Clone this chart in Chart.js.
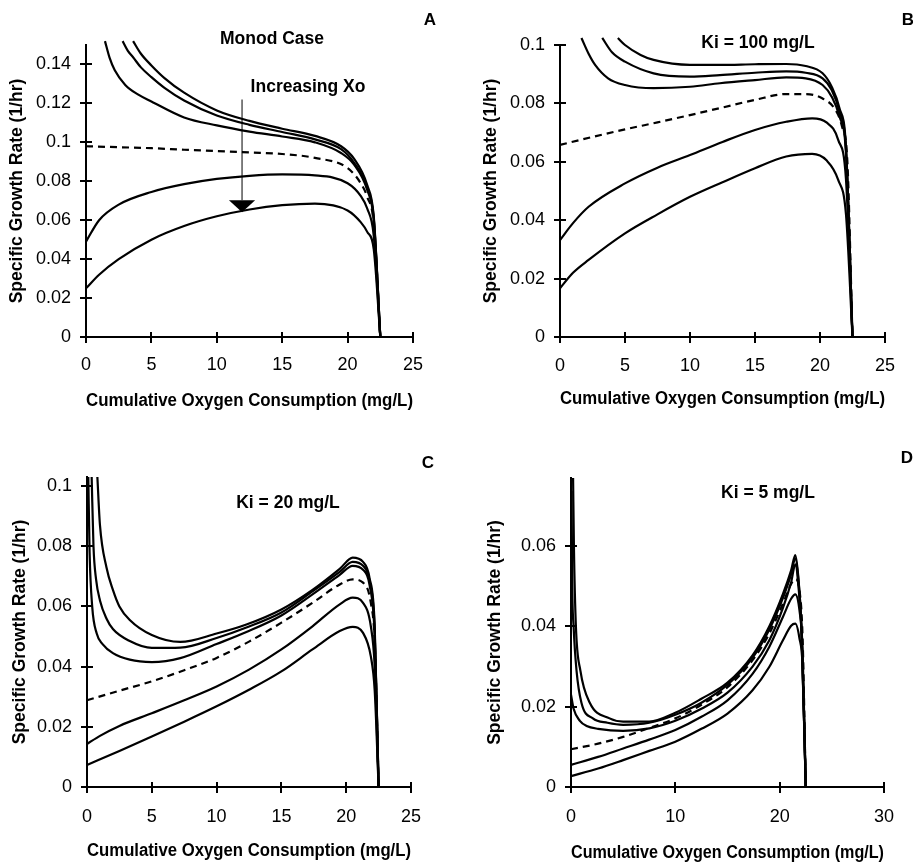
<!DOCTYPE html>
<html><head><meta charset="utf-8">
<script src="https://cdn.jsdelivr.net/npm/chart.js@4"></script>
<style>
html,body{margin:0;padding:0;background:#fff;}
#wrap{position:relative;width:913px;height:865px;overflow:hidden;background:#fff;}
canvas{position:absolute;}
</style></head><body>
<div id="wrap">
<canvas id="cA" width="456" height="420" style="left:0;top:0"></canvas>
<canvas id="cB" width="457" height="420" style="left:456px;top:0"></canvas>
<canvas id="cC" width="456" height="445" style="left:0;top:420px"></canvas>
<canvas id="cD" width="457" height="445" style="left:456px;top:420px"></canvas>
</div>
<script>
// ---------- Tick values ----------
const xTicksABC = [0, 5, 10, 15, 20, 25];
const xTicksD = [0, 10, 20, 30];
const yTicksA = [0, 0.02, 0.04, 0.06, 0.08, 0.1, 0.12, 0.14];
const yTicksB = [0, 0.02, 0.04, 0.06, 0.08, 0.1];
const yTicksC = [0, 0.02, 0.04, 0.06, 0.08, 0.1];
const yTicksD = [0, 0.02, 0.04, 0.06];

// ---------- Panel A (Monod case) ----------
const xA1 = [3.6, 4.2, 5, 6, 7.5, 10, 12.5, 15, 17.5, 19.5, 20.5, 21.5, 22, 22.5];
const yA1 = [0.152, 0.1455, 0.1395, 0.133, 0.1255, 0.1164, 0.111, 0.107, 0.1033, 0.098, 0.0915, 0.078, 0.062, 0];
const xA2 = [2.8, 3.2, 3.6, 4.2, 5, 6, 7.5, 10, 12.5, 15, 17.5, 19.5, 20.5, 21.5, 22, 22.5];
const yA2 = [0.152, 0.147, 0.1437, 0.1385, 0.1335, 0.128, 0.1215, 0.1138, 0.109, 0.1053, 0.1015, 0.0965, 0.0895, 0.0765, 0.061, 0];
const xA3 = [1.45, 1.8, 2.2, 3, 4, 5, 7.5, 10, 12.5, 15, 17.5, 19.5, 20.5, 21.5, 22, 22.5];
const yA3 = [0.152, 0.1435, 0.137, 0.1295, 0.1245, 0.121, 0.1128, 0.1087, 0.1055, 0.103, 0.1, 0.0945, 0.0885, 0.0755, 0.06, 0];
const xA4 = [0, 2.5, 5, 7.5, 10, 12.5, 15, 17.5, 20, 21, 21.5, 22, 22.5];
const yA4 = [0.098, 0.0975, 0.097, 0.0962, 0.0955, 0.0948, 0.094, 0.092, 0.0868, 0.079, 0.072, 0.058, 0];
const xA56 = [0, 1, 2.5, 5, 7.5, 10, 12.5, 15, 17.5, 20, 21, 21.5, 22, 22.5];
const yA5 = [0.049, 0.060, 0.068, 0.0745, 0.0785, 0.0812, 0.0828, 0.0835, 0.083, 0.079, 0.0725, 0.066, 0.052, 0];
const yA6 = [0.025, 0.032, 0.040, 0.050, 0.057, 0.062, 0.0655, 0.0677, 0.0685, 0.065, 0.059, 0.054, 0.045, 0];

// ---------- Panel B (Ki = 100 mg/L) ----------
const xB1 = [4.45, 5, 6.2, 7.2, 10, 12.3, 15, 17.4, 18.9, 20.2, 20.9, 21.5, 22, 22.5];
const yB1 = [0.1024, 0.1, 0.0966, 0.0949, 0.0932, 0.0932, 0.0934, 0.0935, 0.0928, 0.0903, 0.0857, 0.0783, 0.0652, 0];
const xB2 = [3.25, 4, 5, 7.2, 10, 12.3, 15, 17.4, 18.9, 20.2, 20.9, 21.5, 22, 22.5];
const yB2 = [0.1024, 0.0975, 0.0943, 0.0903, 0.0892, 0.0897, 0.0905, 0.091, 0.0905, 0.0886, 0.0846, 0.0772, 0.064, 0];
const xB3 = [1.65, 2.2, 2.7, 3.7, 5, 7.2, 10, 12.3, 15, 17.4, 18.9, 20.2, 20.9, 21.5, 22, 22.5];
const yB3 = [0.1024, 0.097, 0.0932, 0.0886, 0.0863, 0.0852, 0.0857, 0.0869, 0.088, 0.0889, 0.0886, 0.0863, 0.0823, 0.0755, 0.063, 0];
const xB4 = [0, 2.5, 5, 7.5, 10, 12.5, 15, 17.4, 18.9, 20.2, 21.2, 21.7, 22.1, 22.5];
const yB4 = [0.0658, 0.0685, 0.0711, 0.0735, 0.076, 0.0786, 0.0812, 0.0832, 0.0832, 0.0817, 0.0777, 0.072, 0.0606, 0];
const xB56 = [0, 1, 2.2, 5, 7.5, 10, 12.5, 15, 17.4, 19.4, 20.5, 21.4, 22, 22.5];
const yB5 = [0.0332, 0.039, 0.0446, 0.0526, 0.058, 0.0623, 0.0668, 0.0709, 0.0737, 0.0749, 0.0735, 0.0675, 0.054, 0];
const yB6 = [0.0167, 0.022, 0.0264, 0.0355, 0.042, 0.048, 0.053, 0.0578, 0.0618, 0.0627, 0.0605, 0.0538, 0.042, 0];

// ---------- Panel C (Ki = 20 mg/L) ----------
const xC1 = [0.8, 1, 1.5, 2, 2.5, 3.3, 5, 7.2, 10, 12.3, 15, 17.4, 19.5, 20.5, 21.3, 21.8, 22.2, 22.5];
const yC1 = [0.103, 0.087, 0.073, 0.0655, 0.060, 0.0555, 0.0505, 0.0482, 0.051, 0.054, 0.059, 0.0655, 0.0725, 0.0762, 0.0748, 0.0695, 0.0534, 0];
const xC2 = [0.36, 0.5, 0.7, 1, 1.5, 2, 3.3, 5, 7.2, 10, 12.3, 15, 17.4, 19.5, 20.5, 21.3, 21.8, 22.2, 22.5];
const yC2 = [0.103, 0.08, 0.069, 0.062, 0.056, 0.0525, 0.0485, 0.0462, 0.0463, 0.0495, 0.053, 0.058, 0.065, 0.0715, 0.0748, 0.0735, 0.0685, 0.052, 0];
const xC3 = [0.1, 0.2, 0.4, 0.75, 1.2, 2, 3.3, 5, 7.2, 10, 12.3, 15, 17.4, 19.5, 20.5, 21.3, 21.8, 22.2, 22.5];
const yC3 = [0.103, 0.078, 0.06, 0.051, 0.0475, 0.0445, 0.0423, 0.0415, 0.0428, 0.0475, 0.0515, 0.057, 0.064, 0.0705, 0.0735, 0.0722, 0.0672, 0.05, 0];
const xC46 = [0, 2.5, 5, 7.5, 10, 12.5, 15, 17.4, 19.5, 20.5, 21.3, 21.9, 22.2, 22.5];
const yC4 = [0.0288, 0.032, 0.0351, 0.0388, 0.0429, 0.0483, 0.0546, 0.0612, 0.0673, 0.069, 0.0679, 0.0612, 0.048, 0];
const xC5 = [0, 1, 2.5, 5, 7.5, 10, 12.5, 15, 17.4, 19.5, 20.5, 21.3, 21.9, 22.2, 22.5];
const yC5 = [0.0143, 0.017, 0.0203, 0.0245, 0.0288, 0.0334, 0.039, 0.0457, 0.0534, 0.0607, 0.0629, 0.0612, 0.0534, 0.04, 0];
const yC6 = [0.0073, 0.012, 0.0168, 0.0217, 0.0268, 0.0323, 0.0384, 0.0457, 0.0518, 0.0532, 0.0512, 0.0434, 0.032, 0];

// ---------- Panel D (Ki = 5 mg/L) ----------
const xD1 = [0.2, 0.28, 0.47, 0.9, 1.8, 3.7, 5, 7.5, 10, 12.5, 15, 17.4, 19, 20.3, 21.1, 21.5, 21.8, 22.1, 22.5];
const yD1 = [0.077, 0.06, 0.04, 0.029, 0.021, 0.0171, 0.0163, 0.0163, 0.0185, 0.022, 0.026, 0.0328, 0.040, 0.048, 0.054, 0.0578, 0.052, 0.039, 0];
const xD2 = [0.05, 0.12, 0.25, 0.53, 1.0, 2.1, 3.5, 5, 7.5, 10, 12.5, 15, 17.4, 19, 20.3, 21.1, 21.5, 21.8, 22.1, 22.5];
const yD2 = [0.0738, 0.05, 0.04, 0.029, 0.021, 0.0171, 0.016, 0.0155, 0.016, 0.018, 0.021, 0.0255, 0.0322, 0.0392, 0.047, 0.053, 0.057, 0.0515, 0.039, 0];
const xD3 = [0, 0.25, 0.85, 1.5, 2.6, 5, 7.5, 10, 12.5, 15, 17.4, 19, 20.3, 21.1, 21.5, 21.8, 22.1, 22.5];
const yD3 = [0.023, 0.0195, 0.0165, 0.0152, 0.0145, 0.014, 0.0146, 0.0165, 0.0195, 0.0235, 0.030, 0.0365, 0.0445, 0.051, 0.0555, 0.05, 0.038, 0];
const xD46 = [0, 2.6, 5, 7.5, 10, 12.5, 15, 17.4, 19, 20.3, 21.1, 21.5, 21.9, 22.2, 22.5];
const yD4 = [0.0094, 0.0108, 0.0125, 0.0147, 0.0171, 0.0205, 0.0249, 0.0316, 0.0382, 0.0456, 0.0506, 0.0518, 0.049, 0.037, 0];
const yD5 = [0.0055, 0.0075, 0.0096, 0.0118, 0.0142, 0.0175, 0.0216, 0.0282, 0.0349, 0.0423, 0.0469, 0.048, 0.044, 0.034, 0];
const yD6 = [0.0027, 0.0046, 0.0067, 0.009, 0.0113, 0.0145, 0.0183, 0.0241, 0.0299, 0.0365, 0.0402, 0.0407, 0.037, 0.03, 0];

const X_TITLE = 'Cumulative Oxygen Consumption (mg/L)';
const Y_TITLE = 'Specific Growth Rate (1/hr)';

// ---------- fonts ----------
function fontAvailable(f) {
  const c = document.createElement('canvas').getContext('2d');
  const s = 'abcdefghijklmnopqrstuvwxyz0123456789';
  c.font = 'bold 40px "' + f + '", monospace';
  const a = c.measureText(s).width;
  c.font = 'bold 40px "' + f + '", serif';
  const b = c.measureText(s).width;
  return Math.abs(a - b) < 0.01;
}
const HAS_NARROW = fontAvailable('Liberation Sans Narrow');
const BOLD_FAM = HAS_NARROW ? "'Liberation Sans Narrow'" : "'Liberation Sans', Arial, sans-serif";
const BOLD_SIZE = HAS_NARROW ? 21 : 17.5;
const TICK_FAM = "'Liberation Sans', Arial, sans-serif";

function ds(xs, ys, dashed) {
  return {
    data: xs.map((x, i) => ({x: x, y: ys[i]})),
    showLine: true, fill: false,
    borderColor: '#000', borderWidth: 2.2,
    pointRadius: 0, pointHoverRadius: 0,
    cubicInterpolationMode: 'monotone',
    borderDash: dashed ? [7, 5] : [],
    clip: 12
  };
}

const decoPlugin = {
  id: 'panelDeco',
  afterDraw(chart, args, opts) {
    const ctx = chart.ctx;
    const xs = chart.scales.x, ys = chart.scales.y;
    const ca = chart.chartArea;
    ctx.save();
    ctx.strokeStyle = '#000';
    ctx.lineWidth = 2;
    ctx.beginPath();
    xs.ticks.forEach(t => {
      const p = Math.round(xs.getPixelForValue(t.value));
      ctx.moveTo(p, ca.bottom - 5); ctx.lineTo(p, ca.bottom + 6);
    });
    ys.ticks.forEach(t => {
      const p = Math.round(ys.getPixelForValue(t.value));
      ctx.moveTo(ca.left - 6, p); ctx.lineTo(ca.left + 6, p);
    });
    ctx.stroke();
    if (opts.arrow) {
      const a = opts.arrow;
      const ax = xs.getPixelForValue(a.x);
      const y1 = ys.getPixelForValue(a.yTop);
      const yb = ys.getPixelForValue(a.yBase);
      const yt = ys.getPixelForValue(a.yTip);
      const hw = xs.getPixelForValue(a.x + a.halfW) - ax;
      ctx.lineWidth = 1;
      ctx.beginPath(); ctx.moveTo(ax, y1); ctx.lineTo(ax, yb); ctx.stroke();
      ctx.fillStyle = '#000';
      ctx.beginPath(); ctx.moveTo(ax - hw, yb); ctx.lineTo(ax + hw, yb); ctx.lineTo(ax, yt); ctx.closePath(); ctx.fill();
    }
    ctx.fillStyle = '#000';
    ctx.textAlign = 'center';
    ctx.textBaseline = 'middle';
    (opts.texts || []).forEach(t => {
      ctx.font = t.font;
      ctx.fillText(t.text, t.x, t.y);
    });
    ctx.restore();
  }
};

const fmt = v => String(Math.round(v * 1000) / 1000);
const BF = 'bold ' + BOLD_SIZE + 'px ' + BOLD_FAM;
const LF = 'bold 17px ' + TICK_FAM;

function makePanel(id, p) {
  new Chart(document.getElementById(id), {
    type: 'scatter',
    data: {datasets: p.series},
    options: {
      responsive: false, animation: false, devicePixelRatio: 1,
      events: [],
      layout: {padding: {left: 0, top: p.padTop, right: p.padRight, bottom: 0}},
      plugins: {legend: {display: false}, tooltip: {enabled: false}, panelDeco: p.deco},
      scales: {
        x: {
          type: 'linear', min: p.xMin, max: p.xMax,
          afterBuildTicks: s => { s.ticks = p.xTicks.map(v => ({value: v})); },
          afterFit: s => { s.height = p.xH; },
          grid: {drawOnChartArea: false, drawTicks: false},
          border: {display: true, color: '#000', width: 2},
          ticks: {color: '#000', font: {family: TICK_FAM, size: 18}, padding: p.xTickPad, maxRotation: 0, autoSkip: false, callback: fmt},
          title: {display: true, text: X_TITLE, color: '#000', font: {family: BOLD_FAM, size: BOLD_SIZE, weight: 'bold', lineHeight: 1.2}, padding: {top: 0, bottom: p.xTitlePad}}
        },
        y: {
          type: 'linear', min: 0, max: p.yMax,
          afterBuildTicks: s => { s.ticks = p.yTicks.map(v => ({value: v})); },
          afterFit: s => { s.width = p.yW; },
          grid: {drawOnChartArea: false, drawTicks: false},
          border: {display: true, color: '#000', width: 2},
          ticks: {color: '#000', font: {family: TICK_FAM, size: 18}, padding: 15, autoSkip: false, callback: fmt},
          title: {display: true, text: Y_TITLE, color: '#000', font: {family: BOLD_FAM, size: BOLD_SIZE, weight: 'bold', lineHeight: 1.2}, padding: {top: p.yTitlePad, bottom: 0}}
        }
      }
    },
    plugins: [decoPlugin]
  });
}

makePanel('cA', {
  series: [ds(xA1, yA1), ds(xA2, yA2), ds(xA3, yA3), ds(xA4, yA4, true), ds(xA56, yA5), ds(xA56, yA6)],
  xMin: 0, xMax: 25, xTicks: xTicksABC, yMax: 0.15, yTicks: yTicksA,
  padTop: 45, padRight: 43, yW: 86, xH: 83, xTickPad: 17, xTitlePad: 8, yTitlePad: 7,
  deco: {
    arrow: {x: 11.93, yTop: 0.122, yBase: 0.0703, yTip: 0.0641, halfW: 1.0},
    texts: [
      {text: 'A', x: 430, y: 20, font: LF},
      {text: 'Monod Case', x: 272, y: 39, font: BF},
      {text: 'Increasing Xo', x: 308, y: 87, font: BF}
    ]
  }
});
makePanel('cB', {
  series: [ds(xB1, yB1), ds(xB2, yB2), ds(xB3, yB3), ds(xB4, yB4, true), ds(xB56, yB5), ds(xB56, yB6)],
  xMin: 0, xMax: 25, xTicks: xTicksABC, yMax: 0.1, yTicks: yTicksB,
  padTop: 45, padRight: 24, yW: 104, xH: 83, xTickPad: 18, xTitlePad: 10, yTitlePad: 25,
  deco: {
    texts: [
      {text: 'B', x: 452, y: 20, font: LF},
      {text: 'Ki = 100 mg/L', x: 302, y: 43, font: BF}
    ]
  }
});
makePanel('cC', {
  series: [ds(xC1, yC1), ds(xC2, yC2), ds(xC3, yC3), ds(xC46, yC4, true), ds(xC5, yC5), ds(xC46, yC6)],
  xMin: 0, xMax: 25, xTicks: xTicksABC, yMax: 0.103, yTicks: yTicksC,
  padTop: 57, padRight: 45, yW: 87, xH: 78, xTickPad: 19, xTitlePad: 3, yTitlePad: 10,
  deco: {
    texts: [
      {text: 'C', x: 428, y: 43, font: LF},
      {text: 'Ki = 20 mg/L', x: 288, y: 83, font: BF}
    ]
  }
});
makePanel('cD', {
  series: [ds(xD1, yD1), ds(xD2, yD2), ds(xD3, yD3), ds(xD46, yD4, true), ds(xD46, yD5), ds(xD46, yD6)],
  xMin: 0, xMax: 30, xTicks: xTicksD, yMax: 0.077, yTicks: yTicksD,
  padTop: 58, padRight: 25, yW: 115, xH: 78, xTickPad: 19, xTitlePad: 1, yTitlePad: 29,
  deco: {
    texts: [
      {text: 'D', x: 451, y: 38, font: LF},
      {text: 'Ki = 5 mg/L', x: 312, y: 73, font: BF}
    ]
  }
});
</script>
</body></html>
